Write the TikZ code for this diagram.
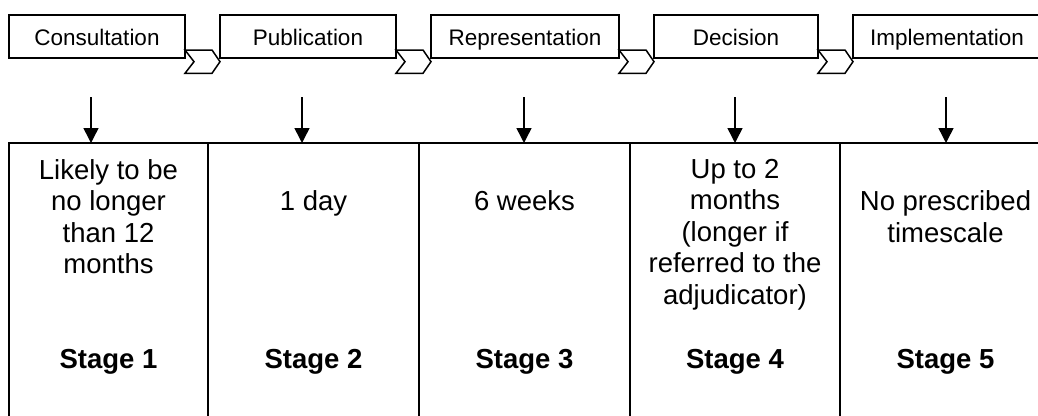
\documentclass[tikz,border=0pt]{standalone}
\usepackage{fontspec}
\setmainfont{Liberation Sans}
\usetikzlibrary{calc,arrows.meta}

\tikzset{
  stagebox/.style={draw, line width=1.5pt, minimum height=43pt, inner sep=0pt,
    outer sep=0pt, text height=21pt, text depth=4pt,
    font=\fontsize{22.5}{27}\selectfont},
  chevron/.style={draw, line width=1.5pt, line join=miter},
  cell/.style={draw, line width=2pt, anchor=north west, minimum height=300pt,
    inner sep=0pt, outer sep=0pt},
  note/.style={anchor=north, align=center, inner sep=0pt,
    font=\fontsize{27.5}{31.5}\selectfont},
  stagelbl/.style={anchor=base, inner sep=0pt,
    font=\fontsize{27.5}{31.5}\selectfont\bfseries},
  down/.style={line width=1.5pt, -{Triangle[width=15pt,length=15pt]}}
}

% chevron between two boxes
\newcommand{\chev}[2]{%
  \draw[chevron] ($(#1.south east)+(0,-8)$) -- ($(#2.south west)+(-8,-8)$)
    -- ($(#2.south west)+(0,3.7)$) -- ($(#2.south west)+(-8,15.3)$)
    -- ($(#1.south east)+(0,15.3)$) -- ($(#1.south east)+(9,3.7)$) -- cycle;}

\begin{document}
\begin{tikzpicture}[x=1pt,y=-1pt]
  \useasboundingbox (0,0) rectangle (1038,415);
  \clip (0,0) rectangle (1038,415);

  % process boxes
  \node[stagebox, minimum width=176] (consult) at (97,36.5) {Consultation};
  \node[stagebox, minimum width=176] (publ)    at (308,36.5) {Publication};
  \node[stagebox, minimum width=188] (repr)    at (525,36.5) {Representation};
  \node[stagebox, minimum width=164] (decis)   at (736,36.5) {Decision};
  \node[stagebox, minimum width=188] (implem)  at (947,36.5) {Implementation};

  % chevrons
  \chev{consult}{publ}
  \chev{publ}{repr}
  \chev{repr}{decis}
  \chev{decis}{implem}

  % table cells
  \foreach \c/\x/\w/\n in {A/9/199/1, B/208/211/2, C/419/211/3, D/630/210/4, E/840/211/5}{
    \node[cell, minimum width=\w] (cell\c) at (\x,143) {};
    \node[stagelbl] (stage\c) at ($(cell\c.north)+(0,225)$) {Stage \n};
  }

  % arrows
  \foreach \c/\x in {A/91, B/302, C/524, D/735, E/946}{
    \coordinate (top\c) at (\x,97);
    \draw[down] (top\c) -- (top\c |- cell\c.north);
  }

  % durations
  \node[note] (durA) at ($(cellA.north)+(0,16)$)
    {Likely to be\\no longer\\than 12\\months};
  \node[note] (durB) at ($(cellB.north)+(0,47.5)$) {1 day};
  \node[note] (durC) at ($(cellC.north)+(0,47.5)$) {6 weeks};
  \node[note] (durD) at ($(cellD.north)+(0,16)$)
    {Up to 2\\months\\(longer if\\referred to the\\adjudicator)};
  \node[note] (durE) at ($(cellE.north)+(0,47.5)$)
    {No prescribed\\timescale};
\end{tikzpicture}
\end{document}
